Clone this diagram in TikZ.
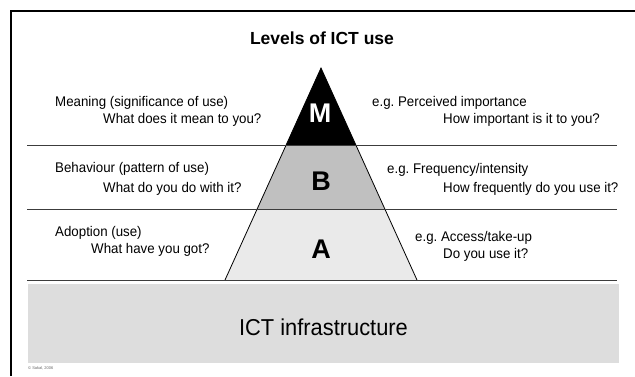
\documentclass[tikz,border=0pt]{standalone}
\usepackage{fontspec}
\setmainfont{Liberation Sans}
\newfontfamily\labelfont{Liberation Sans}[FakeStretch=0.95]
\usetikzlibrary{positioning}
\usetikzlibrary{calc}
\frenchspacing
\definecolor{palegrey}{RGB}{234,234,234}
\definecolor{midgrey}{RGB}{192,192,192}
\definecolor{basegrey}{RGB}{221,221,221}
\definecolor{rulegrey}{RGB}{60,60,60}
\tikzset{
heading/.style = {anchor=base, inner sep=0pt, font=\fontsize{17.5}{20}\selectfont\bfseries},
levelname/.style = {anchor=base west, inner sep=0pt, font=\labelfont\fontsize{14}{16}\selectfont},
levelquestion/.style = {levelname},
letter/.style = {anchor=base, inner sep=0pt, font=\fontsize{27}{30}\selectfont\bfseries},
divider/.style = {draw=rulegrey, line width=0.9pt},
edge/.style = {draw=black, line width=0.8pt, line join=miter},
frame/.style = {draw=black, line width=2pt},
infra/.style = {anchor=base, inner sep=0pt, font=\labelfont\fontsize{23}{26}\selectfont},
credit/.style = {anchor=base west, inner sep=0pt, text=black!60, font=\fontsize{4}{5}\selectfont}
}

\begin{document}
\begin{tikzpicture}[x=1pt, y=-1pt]
    \useasboundingbox (0,0) rectangle (635,376);
    \draw [frame] (11,376) -- (11,11) -- (635,11);
    \node [heading] (title) at (322,44) {Levels of ICT use};

    % pyramid
    \coordinate (apex) at (321,68);
    \coordinate (baseL) at (225,280);
    \coordinate (baseR) at (417,280);
    \coordinate (mL) at ($(apex)!0.3632!(baseL)$);
    \coordinate (mR) at ($(apex)!0.3632!(baseR)$);
    \coordinate (bL) at ($(apex)!0.6651!(baseL)$);
    \coordinate (bR) at ($(apex)!0.6651!(baseR)$);
    \fill [black] (apex) -- (mL) -- (mR) -- cycle;
    \fill [midgrey] (mL) -- (bL) -- (bR) -- (mR) -- cycle;
    \fill [palegrey] (bL) -- (baseL) -- (baseR) -- (bR) -- cycle;
    \path [edge] (baseL) -- (apex) -- (baseR);

    \path [divider] (27,145) -- (617,145);
    \path [divider] (27,209) -- (617,209);
    \path [divider] (27,280) -- (617,280);

    \node [letter, text=white] (M) at (320,122.7) {M};
    \node [letter] (B) at (321,190) {B};
    \node [letter] (A) at (321,258.3) {A};

    % left column
    \node [levelname] (meaning) at (55,106.5) {Meaning (significance of use)};
    \node [levelquestion] (meaningq) at (103,123.3) {What does it mean to you?};
    \node [levelname] (behaviour) at (55,172.5) {Behaviour (pattern of use)};
    \node [levelquestion] (behaviourq) at (103,192.3) {What do you do with it?};
    \node [levelname] (adoption) at (55,236.5) {Adoption (use)};
    \node [levelquestion] (adoptionq) at (91,253.5) {What have you got?};

    % right column
    \node [levelname] (importance) at (372,106) {e.g. Perceived importance};
    \node [levelquestion] (importanceq) at (443,123.3) {How important is it to you?};
    \node [levelname] (frequency) at (387,173.3) {e.g. Frequency/intensity};
    \node [levelquestion] (frequencyq) at (443,192.3) {How frequently do you use it?};
    \node [levelname] (access) at (415,241.7) {e.g. Access/take-up};
    \node [levelquestion] (accessq) at (443,258.3) {Do you use it?};

    % base
    \fill [basegrey] (28,284) rectangle (619,363);
    \node [infra] (infra) at (323.5,335) {ICT infrastructure};
    \node [credit] (copy) at (28,369) {\textcopyright{} Sakal, 2006};
\end{tikzpicture}
\end{document}
